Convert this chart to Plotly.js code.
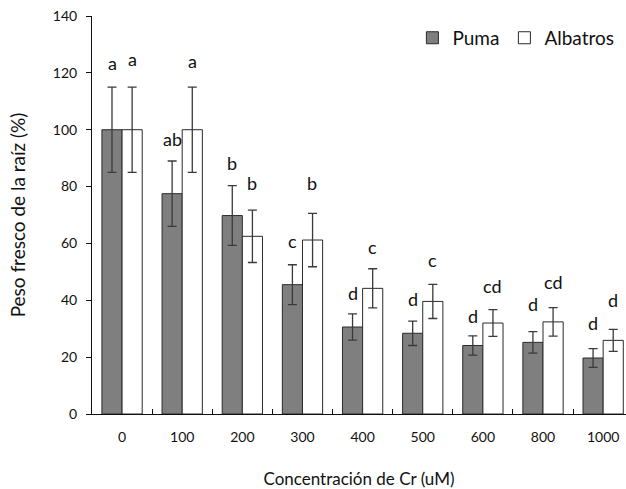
<!DOCTYPE html>
<html>
<head>
<meta charset="utf-8">
<script src="https://cdn.plot.ly/plotly-3.0.1.min.js"></script>
<style>html,body{margin:0;padding:0;background:#fff;}#chart{width:626px;height:489px;}</style>
</head>
<body>
<div id="chart"></div>
<script>
const categories = ["0", "100", "200", "300", "400", "500", "600", "800", "1000"];
const pumaValues = [100, 77.5, 69.8, 45.5, 30.6, 28.4, 24.1, 25.2, 19.7];
const pumaErrors = [15, 11.5, 10.5, 7, 4.6, 4.3, 3.4, 3.8, 3.3];
const albatrosValues = [100, 100, 62.5, 61.2, 44.2, 39.6, 32.0, 32.4, 25.9];
const albatrosErrors = [15, 15, 9.2, 9.4, 6.9, 6, 4.7, 5, 3.9];
const pumaLetters = ["a", "ab", "b", "c", "d", "d", "d", "d", "d"];
const pumaLetterY = [123.5, 96.7, 88.3, 60.8, 42.5, 40.4, 34.5, 38.8, 31.9];
const albatrosLetters = ["a", "a", "b", "b", "c", "c", "cd", "cd", "d"];
const albatrosLetterY = [124.8, 124, 81.2, 81.2, 58.9, 54.2, 45.0, 46.3, 40.1];

const font = "Lato, 'Open Sans', sans-serif";
const errStyle = {type: "data", visible: true, color: "#3a3a3a", thickness: 1.3, width: 4.5};

const traces = [
  {
    type: "bar", name: "Puma", x: categories, y: pumaValues,
    error_y: Object.assign({array: pumaErrors}, errStyle),
    marker: {color: "#7f7f7f", line: {color: "#2a2a2a", width: 1}}
  },
  {
    type: "bar", name: "Albatros", x: categories, y: albatrosValues,
    error_y: Object.assign({array: albatrosErrors}, errStyle),
    marker: {color: "#ffffff", line: {color: "#2a2a2a", width: 1}}
  }
];

const annotations = [];
categories.forEach((c, i) => {
  annotations.push({x: i, y: pumaLetterY[i], text: pumaLetters[i], xref: "x", yref: "y", showarrow: false,
    xshift: -10, font: {family: font, size: 18, color: "#111"}});
  annotations.push({x: i, y: albatrosLetterY[i], text: albatrosLetters[i], xref: "x", yref: "y", showarrow: false,
    xshift: 10, font: {family: font, size: 18, color: "#111"}});
});

const layout = {
  width: 626, height: 489,
  margin: {l: 92, r: 0, t: 16, b: 75},
  paper_bgcolor: "#fff", plot_bgcolor: "#fff",
  barmode: "group", bargap: 0.33, bargroupgap: 0,
  font: {family: font, color: "#111"},
  xaxis: {
    type: "category", range: [-0.5, 8.38],
    showline: true, linecolor: "#111", linewidth: 1,
    ticks: "inside", tickson: "boundaries", ticklen: 5, tickcolor: "#111",
    tickfont: {family: font, size: 14, color: "#111"},
    ticklabelstandoff: 10,
    showgrid: false, zeroline: false,
    title: {text: "Concentración de Cr (uM)", font: {family: font, size: 17, color: "#111"}, standoff: 30}
  },
  yaxis: {
    range: [0, 140], dtick: 20,
    showline: true, linecolor: "#111", linewidth: 1,
    ticks: "outside", ticklen: 5, tickcolor: "#111",
    tickfont: {family: font, size: 14, color: "#111"},
    ticklabelstandoff: 6,
    showgrid: false, zeroline: false,
    title: {text: "Peso fresco de la raíz (%)", font: {family: font, size: 19, color: "#111"}, standoff: 22}
  },
  legend: {
    orientation: "h", x: 0.6, xanchor: "left", y: 0.945, yanchor: "middle",
    font: {family: font, size: 19, color: "#111"}, bgcolor: "rgba(0,0,0,0)",
    itemwidth: 30
  },
  annotations: annotations,
  showlegend: true
};

Plotly.newPlot("chart", traces, layout, {displayModeBar: false, staticPlot: true});
</script>
</body>
</html>
